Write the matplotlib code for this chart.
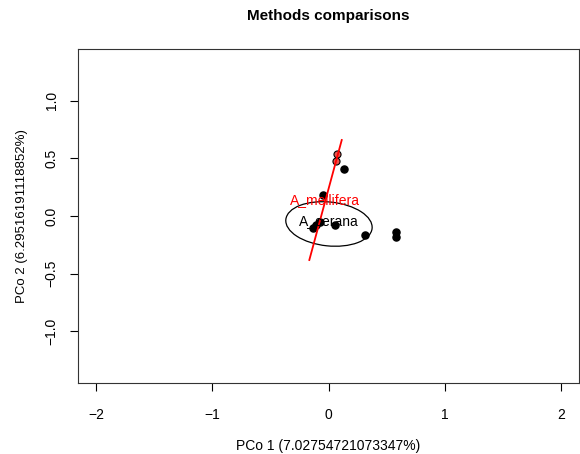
import matplotlib
matplotlib.use("Agg")
import matplotlib.pyplot as plt
from matplotlib.patches import Ellipse

plt.rcParams["font.family"] = ["Liberation Sans", "DejaVu Sans"]

# PCoA scores
cerana_x = [-0.134, -0.108, -0.073, 0.056, 0.314, 0.581, 0.581, 0.133, -0.047]
cerana_y = [-0.104, -0.078, -0.052, -0.078, -0.165, -0.139, -0.182, 0.407, 0.182]
mellifera_x = [0.077, 0.065]
mellifera_y = [0.537, 0.476]

# group outlines
cerana_ellipse = dict(center=(0.004, -0.069), width=0.746, height=0.38, angle=-6)
mellifera_line_x = [0.114, -0.165]
mellifera_line_y = [0.658, -0.381]

labels = ["A_mellifera", "A_cerana"]
label_pos = [(-0.03, 0.139), (0.0, -0.04)]
label_cols = ["red", "black"]

fig = plt.figure(figsize=(5.8, 4.54), dpi=100)
ax = fig.add_axes([78 / 580, 71 / 454, 501 / 580, 334 / 454])

ax.scatter(cerana_x, cerana_y, s=26, color="black", zorder=3)
ax.scatter(mellifera_x, mellifera_y, s=26, facecolor="#e8554e", edgecolor="black",
           linewidth=0.8, zorder=3)

ax.add_patch(Ellipse(cerana_ellipse["center"], cerana_ellipse["width"],
                     cerana_ellipse["height"], angle=cerana_ellipse["angle"],
                     fill=False, edgecolor="black", linewidth=0.9))
ax.plot(mellifera_line_x, mellifera_line_y, color="red", linewidth=1.3, zorder=4)

for lab, (lx, ly), c in zip(labels, label_pos, label_cols):
    ax.text(lx, ly, lab, color=c, fontsize=10, ha="center", va="center", zorder=5)

ax.set_xlim(-2.155, 2.155)
ax.set_ylim(-1.446, 1.446)
ax.set_xticks([-2, -1, 0, 1, 2])
ax.set_xticklabels(["\u22122", "\u22121", "0", "1", "2"])
ax.set_yticks([-1.0, -0.5, 0.0, 0.5, 1.0])
ax.set_yticklabels(["\u22121.0", "\u22120.5", "0.0", "0.5", "1.0"], rotation=90, va="center")
ax.tick_params(length=6, width=0.8, labelsize=10)
ax.tick_params(axis="x", pad=12)
ax.tick_params(axis="y", pad=8)
for sp in ax.spines.values():
    sp.set_linewidth(0.8)
    sp.set_color("#333333")

ax.set_xlabel("PCo 1 (7.02754721073347%)", fontsize=10, labelpad=12)
ax.set_ylabel("PCo 2 (6.29516191118852%)", fontsize=9.5, labelpad=12)
fig.text(328 / 580, 1 - 16 / 454, "Methods comparisons", fontsize=11,
         fontweight="bold", ha="center", va="center")

fig.savefig("out.png", dpi=100)
